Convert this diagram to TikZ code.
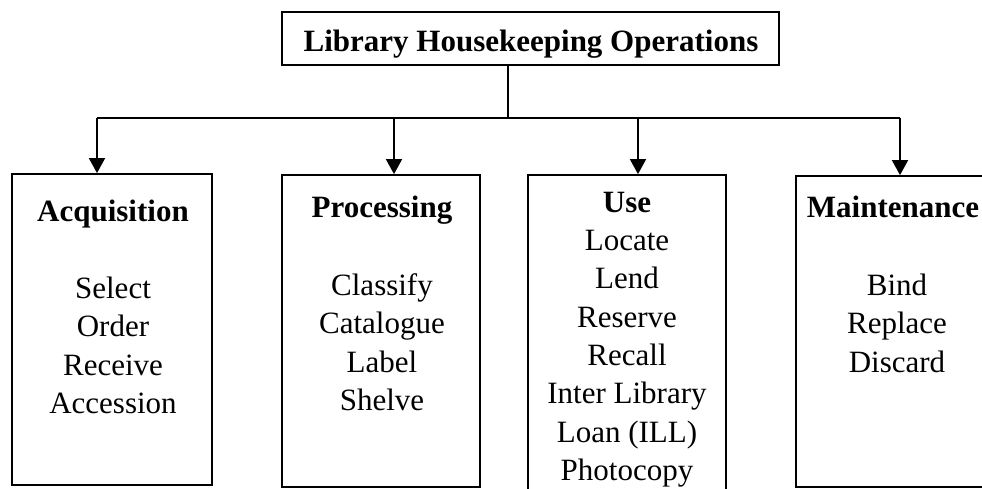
\documentclass[tikz,border=0pt]{standalone}
\usepackage{fontspec}
\setmainfont{Liberation Serif}
\usetikzlibrary{arrows.meta}
\begin{document}
\begin{tikzpicture}[x=1pt,y=-1pt,
  box/.style={draw, rectangle, inner sep=0pt, line width=1.8pt, fill=none},
  head/.style={font=\fontsize{31}{37}\selectfont\bfseries, anchor=base, inner sep=0pt},
  item/.style={font=\fontsize{31}{37}\selectfont, anchor=base, inner sep=0pt},
  bus/.style={line width=1.8pt},
  conn/.style={line width=1.8pt, -{Triangle[length=15pt,width=16pt]}}]
\useasboundingbox (0,0) rectangle (982,489);
\fill[white] (0,0) rectangle (982,489);

% boxes
\node[box, minimum width=497pt, minimum height=53pt] (top) at (530.5,38.5) {};
\node[box, minimum width=200pt, minimum height=311pt] (acq) at (112,329.5) {};
\node[box, minimum width=198pt, minimum height=312pt] (proc) at (381,331) {};
\node[box, minimum width=198pt, minimum height=365pt] (use) at (627,357.5) {};
\node[box, minimum width=204pt, minimum height=311pt] (maint) at (898,331.5) {};

% title
\node[head] (title) at (531,52) {Library Housekeeping Operations};

% connectors
\coordinate (j) at (508,118);
\coordinate (b1) at (97,118);
\coordinate (b2) at (394,118);
\coordinate (b3) at (638,118);
\coordinate (b4) at (900,118);
\draw[bus] (top.south -| j) -- (j);
\draw[bus] (b1) -- (b4);
\draw[conn] (b1) -- (b1 |- acq.north);
\draw[conn] (b2) -- (b2 |- proc.north);
\draw[conn] (b3) -- (b3 |- use.north);
\draw[conn] (b4) -- (b4 |- maint.north);

% Acquisition
\node[head] (h1) at (113,222) {Acquisition};
\node[item] (a1) at (113,298) {Select};
\node[item] (a2) at (113,336) {Order};
\node[item] (a3) at (113,375) {Receive};
\node[item] (a4) at (113,413) {Accession};

% Processing
\node[head] (h2) at (382,218) {Processing};
\node[item] (p1) at (382,295) {Classify};
\node[item] (p2) at (382,333) {Catalogue};
\node[item] (p3) at (382,372) {Label};
\node[item] (p4) at (382,410) {Shelve};

% Use
\node[head] (h3) at (627,212) {Use};
\node[item] (u1) at (627,250) {Locate};
\node[item] (u2) at (627,288) {Lend};
\node[item] (u3) at (627,327) {Reserve};
\node[item] (u4) at (627,365) {Recall};
\node[item] (u5) at (627,403) {Inter Library};
\node[item] (u6) at (627,442) {Loan (ILL)};
\node[item] (u7) at (627,480) {Photocopy};

% Maintenance
\node[head] (h4) at (893,218) {Maintenance};
\node[item] (m1) at (897,295) {Bind};
\node[item] (m2) at (897,333) {Replace};
\node[item] (m3) at (897,372) {Discard};
\end{tikzpicture}
\end{document}
